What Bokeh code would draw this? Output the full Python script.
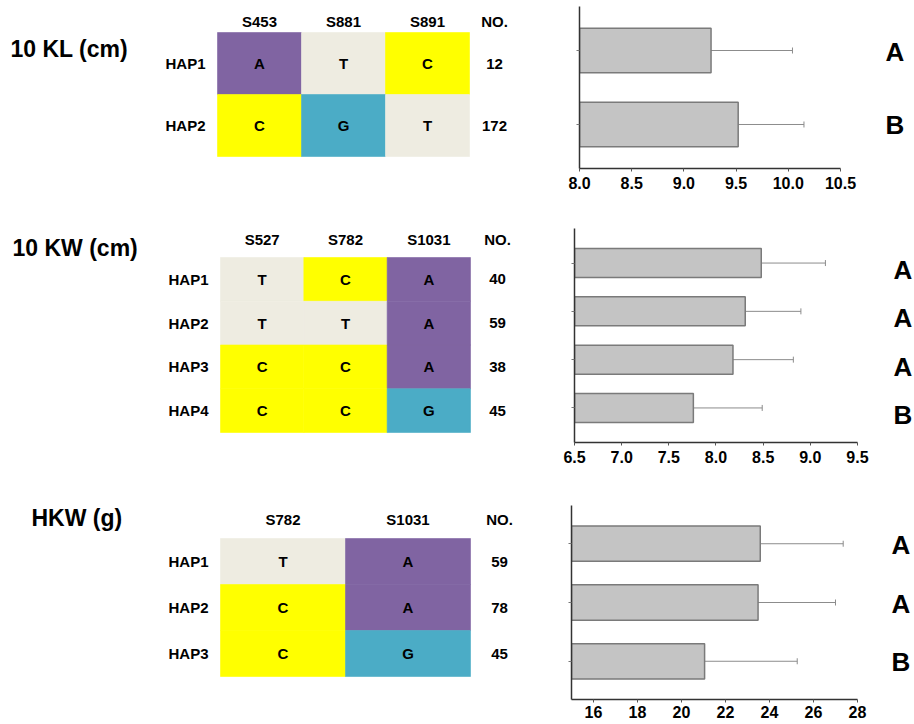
from bokeh.plotting import figure
from bokeh.models import (ColumnDataSource, FactorRange, Range1d, FixedTicker,
                          PrintfTickFormatter, Whisker, TeeHead)
from bokeh.layouts import row, column
from bokeh.core.properties import value
from bokeh.embed import file_html
from bokeh.resources import INLINE

FONT = "Liberation Sans"

# ---------------- data ----------------
kl_title = "10 KL (cm)"
kl_sites = ["S453", "S881", "S891"]
kl_haps = ["HAP1", "HAP2"]
kl_alleles = [["A", "T", "C"], ["C", "G", "T"]]
kl_counts = [12, 172]
kl_means = [9.26, 9.52]
kl_sd = [0.78, 0.63]
kl_letters = ["A", "B"]
kl_ticks = [8.0, 8.5, 9.0, 9.5, 10.0, 10.5]

kw_title = "10 KW (cm)"
kw_sites = ["S527", "S782", "S1031"]
kw_haps = ["HAP1", "HAP2", "HAP3", "HAP4"]
kw_alleles = [["T", "C", "A"], ["T", "T", "A"], ["C", "C", "A"], ["C", "C", "G"]]
kw_counts = [40, 59, 38, 45]
kw_means = [8.48, 8.31, 8.18, 7.76]
kw_sd = [0.68, 0.59, 0.64, 0.73]
kw_letters = ["A", "A", "A", "B"]
kw_ticks = [6.5, 7.0, 7.5, 8.0, 8.5, 9.0, 9.5]

hkw_title = "HKW (g)"
hkw_sites = ["S782", "S1031"]
hkw_haps = ["HAP1", "HAP2", "HAP3"]
hkw_alleles = [["T", "A"], ["C", "A"], ["C", "G"]]
hkw_counts = [59, 78, 45]
hkw_means = [23.58, 23.48, 21.05]
hkw_sd = [3.77, 3.52, 4.21]
hkw_letters = ["A", "A", "B"]
hkw_ticks = [16, 18, 20, 22, 24, 26, 28]

allele_colors = {"A": "#8064A2", "T": "#EEECE1", "C": "#FFFF00", "G": "#4BACC6"}

# ---------------- layout / style (page pixels) ----------------
T_W = 560          # width of the table panel
B_W = 354          # width of the bar panel
panels = [
    dict(title=kl_title, sites=kl_sites, haps=kl_haps, alleles=kl_alleles, counts=kl_counts,
         means=kl_means, sd=kl_sd, letters=kl_letters, ticks=kl_ticks, fmt="%.1f",
         y0=0, H=196, ftop=6, fbot=168,
         cell_left=217, cell_w=84, cell_top=32, cell_h=62,
         hdr_dy=-11, cnt_dx=25, title_dx=-207, title_dy=16,
         ax_px=579, ppu=104.4, x0=8.0, ax_end=10.5,
         pad=0.0946, letter_px=885, letter_dy=1, lab_standoff=5),
    dict(title=kw_title, sites=kw_sites, haps=kw_haps, alleles=kw_alleles, counts=kw_counts,
         means=kw_means, sd=kw_sd, letters=kw_letters, ticks=kw_ticks, fmt="%.1f",
         y0=196, H=274, ftop=228, fbot=442,
         cell_left=220, cell_w=83.33, cell_top=257, cell_h=43.75,
         hdr_dy=-18, cnt_dx=27, title_dx=-208, title_dy=-10,
         ax_px=574, ppu=94.33, x0=6.5, ax_end=9.5,
         pad=0.1078, letter_px=893, letter_dy=7, lab_standoff=5),
    dict(title=hkw_title, sites=hkw_sites, haps=hkw_haps, alleles=hkw_alleles, counts=hkw_counts,
         means=hkw_means, sd=hkw_sd, letters=hkw_letters, ticks=hkw_ticks, fmt="%d",
         y0=470, H=254, ftop=505, fbot=699,
         cell_left=220, cell_w=125, cell_top=538, cell_h=46,
         hdr_dy=-19, cnt_dx=29, title_dx=-189, title_dy=-21,
         ax_px=571, ppu=22.0, x0=15, ax_end=28,
         pad=0.1007, letter_px=891, letter_dy=1, lab_standoff=3),
]

TXT = dict(text_font=value(FONT), text_font_style="bold", text_color="black")


def base_fig(**kw):
    p = figure(output_backend="svg", toolbar_location=None, **kw)
    p.outline_line_color = None
    p.grid.visible = False
    p.background_fill_color = "white"
    p.border_fill_color = "white"
    return p


rows = []
for c in panels:
    top_b = c["ftop"] - c["y0"]
    bot_b = c["y0"] + c["H"] - c["fbot"]
    ns, nh = len(c["sites"]), len(c["haps"])

    # ---------- haplotype table (column j = site index, row i = haplotype index) ----------
    L, u, CT, v = c["cell_left"], c["cell_w"], c["cell_top"], c["cell_h"]
    x_rng = Range1d(-0.5 - L / u, -0.5 + (T_W - L) / u)
    y_rng = Range1d(-0.5 + (c["fbot"] - CT) / v, -0.5 - (CT - c["ftop"]) / v)  # reversed

    cx, cy, ca, cc = [], [], [], []
    for i, alle in enumerate(c["alleles"]):
        for j, a in enumerate(alle):
            cx.append(j)
            cy.append(i)
            ca.append(a)
            cc.append(allele_colors[a])
    csrc = ColumnDataSource(dict(x=cx, y=cy, a=ca, c=cc))

    t = base_fig(width=T_W, height=c["H"], x_range=x_rng, y_range=y_rng,
                 x_axis_location=None, y_axis_location=None,
                 min_border_left=0, min_border_right=0,
                 min_border_top=top_b, min_border_bottom=bot_b)
    t.rect(x="x", y="y", width=1, height=1, source=csrc, fill_color="c",
           line_color="c", line_width=0.6)
    t.text(x="x", y="y", text="a", source=csrc, text_font_size="15px",
           text_align="center", text_baseline="middle", **TXT)
    # site headers
    t.text(x=list(range(ns)), y=[-0.5] * ns, text=c["sites"], y_offset=c["hdr_dy"],
           text_font_size="15px", text_align="center", text_baseline="middle", **TXT)
    # haplotype names
    t.text(x=[-0.5] * nh, y=list(range(nh)), text=c["haps"], x_offset=-12,
           text_font_size="15px", text_align="right", text_baseline="middle", **TXT)
    # counts column
    t.text(x=[ns - 0.5], y=[-0.5], text=["NO."], x_offset=c["cnt_dx"], y_offset=c["hdr_dy"],
           text_font_size="15px", text_align="center", text_baseline="middle", **TXT)
    t.text(x=[ns - 0.5] * nh, y=list(range(nh)), text=[str(n) for n in c["counts"]],
           x_offset=c["cnt_dx"], text_font_size="15px", text_align="center",
           text_baseline="middle", **TXT)
    # trait title
    t.text(x=[-0.5], y=[-0.5], text=[c["title"]], x_offset=c["title_dx"],
           y_offset=c["title_dy"], text_font_size="23px", text_align="left",
           text_baseline="middle", **TXT)

    # ---------- bar chart ----------
    b_left = c["ax_px"] - T_W
    x1 = c["x0"] + (T_W + B_W - c["ax_px"]) / c["ppu"]
    letter_x = c["x0"] + (c["letter_px"] - c["ax_px"]) / c["ppu"]

    bsrc = ColumnDataSource(dict(hap=c["haps"], mean=c["means"],
                                 upper=[m + s for m, s in zip(c["means"], c["sd"])],
                                 letter=c["letters"]))
    b = base_fig(width=B_W, height=c["H"],
                 x_range=Range1d(c["x0"], x1),
                 y_range=FactorRange(*c["haps"][::-1], range_padding=c["pad"]),
                 x_axis_location="below", y_axis_location="left",
                 min_border_left=b_left, min_border_right=0,
                 min_border_top=top_b, min_border_bottom=bot_b)
    b.hbar(y="hap", left=c["x0"], right="mean", height=0.6, source=bsrc,
           fill_color="#C4C4C4", line_color="#7A7A7A", line_width=1.5)
    b.add_layout(Whisker(source=bsrc, base="hap", lower="mean", upper="upper",
                         dimension="width", line_color="#8C8C8C", line_width=1,
                         lower_head=None,
                         upper_head=TeeHead(size=6, line_color="#8C8C8C", line_width=1)))
    b.text(x=letter_x, y="hap", text="letter", source=bsrc, text_font_size="26px",
           text_align="left", text_baseline="middle", y_offset=c["letter_dy"], **TXT)

    xa = b.xaxis[0]
    xa.bounds = (c["x0"], c["ax_end"])
    xa.ticker = FixedTicker(ticks=c["ticks"])
    xa.formatter = PrintfTickFormatter(format=c["fmt"])
    xa.axis_line_color = "#333333"
    xa.axis_line_width = 1.5
    xa.major_tick_line_color = "#555555"
    xa.major_tick_out = 3
    xa.major_tick_in = 0
    xa.minor_tick_line_color = None
    xa.major_label_text_font = FONT
    xa.major_label_text_font_style = "bold"
    xa.major_label_text_font_size = "16px"
    xa.major_label_text_color = "black"
    xa.major_label_standoff = c["lab_standoff"]

    ya = b.yaxis[0]
    ya.axis_line_color = "#333333"
    ya.axis_line_width = 1.5
    ya.major_tick_line_color = "#777777"
    ya.major_tick_out = 3
    ya.major_tick_in = 0
    ya.major_label_text_font_size = "0px"
    ya.major_label_text_color = None
    ya.major_label_standoff = 0

    rows.append(row(t, b))

layout = column(*rows)
open("out.html", "w").write(file_html(layout, INLINE))
